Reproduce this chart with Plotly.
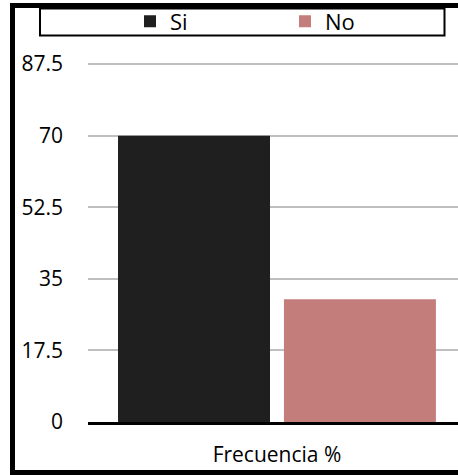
import plotly.graph_objects as go

# Data
categories = ["Frecuencia %"]
series_names = ["Si", "No"]
si_values = [70]
no_values = [30]
y_ticks = [0, 17.5, 35, 52.5, 70, 87.5]
y_ticktext = ["0", "17.5", "35", "52.5", "70", "87.5"]

FONT = "'Open Sans', sans-serif"
Y_MAX = 88.0

fig = go.Figure()
fig.add_trace(go.Bar(
    name=series_names[0], x=categories, y=si_values,
    marker=dict(color="#1f1f1f", line=dict(width=0)),
))
fig.add_trace(go.Bar(
    name=series_names[1], x=categories, y=no_values,
    marker=dict(color="#c37d7a", line=dict(width=0)),
))

# plot area spans x 88..458 px and y 62..422 px
PLOT_L, PLOT_R, PLOT_T, PLOT_B = 88, 458, 62, 422

def px_x(p):
    return (p - PLOT_L) / float(PLOT_R - PLOT_L)

def px_y(p):
    return (PLOT_B - p) / float(PLOT_B - PLOT_T)

def band(x0, x1, y0, y1):
    # solid black strip of the outer frame
    return dict(type="rect", xref="paper", yref="paper",
                x0=px_x(x0), x1=px_x(x1), y0=px_y(y1), y1=px_y(y0),
                line=dict(width=0), fillcolor="black", layer="above")

shapes = [
    band(10, 458, 3, 8),      # top
    band(10, 15, 3, 475),     # left
    band(10, 458, 470, 475),  # bottom
    # legend box
    dict(type="rect", xref="paper", yref="paper",
         x0=px_x(40), x1=px_x(444.5), y0=px_y(35.5), y1=px_y(8.5),
         line=dict(color="black", width=2), fillcolor="rgba(0,0,0,0)", layer="above"),
]

fig.update_layout(
    width=458, height=475,
    margin=dict(l=PLOT_L, r=458 - PLOT_R, t=PLOT_T, b=475 - PLOT_B, pad=0),
    paper_bgcolor="white", plot_bgcolor="white",
    font=dict(family=FONT, size=20, color="black"),
    barmode="group", bargap=0.122, bargroupgap=0.084,
    showlegend=True,
    legend=dict(
        orientation="h", x=px_x(130), xanchor="left",
        y=px_y(21.5), yanchor="middle",
        entrywidth=110, entrywidthmode="pixels",
        font=dict(family=FONT, size=22, color="black"),
        bgcolor="rgba(0,0,0,0)", borderwidth=0,
    ),
    xaxis=dict(
        range=[-0.5, 0.479], showgrid=False, showline=True,
        linecolor="black", linewidth=2.5, ticks="", ticklabelstandoff=12,
        tickfont=dict(family=FONT, size=21, color="black"),
        fixedrange=True,
    ),
    yaxis=dict(
        range=[0, Y_MAX], tickvals=y_ticks, ticktext=y_ticktext,
        showgrid=True, gridcolor="#bfbfbf", gridwidth=2,
        zeroline=False, showline=False, ticks="",
        ticklabelstandoff=24,
        tickfont=dict(family=FONT, size=21, color="black"),
        fixedrange=True,
    ),
    shapes=shapes,
)

fig.write_html("out.html")
